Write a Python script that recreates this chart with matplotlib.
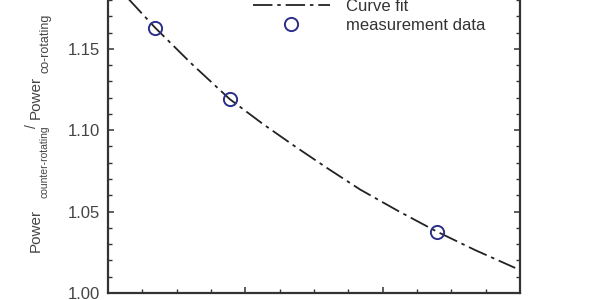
import matplotlib
matplotlib.use("Agg")
import matplotlib.pyplot as plt
from matplotlib.ticker import MultipleLocator, NullFormatter

# measured points
meas_x = [1.37, 3.55, 9.58]
meas_y = [1.163, 1.119, 1.0377]

# curve fit
fit_x = [0.58, 1.37, 2.45, 3.55, 4.50, 5.45, 6.40, 7.34, 8.45, 9.58, 10.70, 11.86]
fit_y = [1.181, 1.163, 1.1405, 1.119, 1.1040, 1.090, 1.0765, 1.0636, 1.0504, 1.0377, 1.0263, 1.0154]

plt.rcParams['font.family'] = ['Liberation Sans', 'DejaVu Sans']
plt.rcParams['lines.scale_dashes'] = False

fig = plt.figure(figsize=(6, 3), dpi=100)
ax = fig.add_axes([0.18, 0.0233, 0.6867, 1.08])

txt = '#444444'
fit_line, = ax.plot(fit_x, fit_y, color='#222222', lw=1.3, dashes=[14, 3.5, 2.5, 3.5])
meas_pts, = ax.plot(meas_x, meas_y, 'o', ms=9.5, mfc='none', mec='#2b2f8a', mew=1.4)

ax.set_xlim(0, 12)
ax.set_ylim(1.00, 1.199)
ax.yaxis.set_major_locator(MultipleLocator(0.05))
ax.yaxis.set_minor_locator(MultipleLocator(0.01))
ax.xaxis.set_major_locator(MultipleLocator(4))
ax.xaxis.set_minor_locator(MultipleLocator(1))
ax.xaxis.set_major_formatter(NullFormatter())
ax.yaxis.set_major_formatter(plt.FuncFormatter(lambda v, p: '%.2f' % v))

ax.tick_params(which='both', direction='in', top=True, right=True, colors='#333333',
               labelcolor=txt, labelsize=12)
ax.tick_params(which='major', length=4, width=1.1, pad=6)
ax.tick_params(which='minor', length=3, width=1.0)
for s in ax.spines.values():
    s.set_color('#333333')
    s.set_linewidth(1.6)

# y label built from pieces so the subscripts can be smaller
# (text, x px of baseline, y px where it starts, size)
label_parts = [
    ('Power', 40, 252, 11),
    ('counter-rotating', 47, 198, 7.5),
    ('/', 36, 128, 10),
    ('Power', 40, 119, 11),
    ('co-rotating', 48, 73, 9),
]
for s, px, py, fs in label_parts:
    fig.text(px / 100, (300 - py) / 100, s, transform=fig.dpi_scale_trans,
             rotation=90, rotation_mode='anchor', ha='left', va='baseline',
             fontsize=fs, color=txt)

leg = fig.legend([fit_line, meas_pts], ['Curve fit', 'measurement data'],
                 loc='upper left', bbox_to_anchor=(0.4217, 1.003), frameon=False,
                 fontsize=12, handlelength=4.6, handletextpad=1.0,
                 labelspacing=0.25, borderpad=0, borderaxespad=0)
for t in leg.get_texts():
    t.set_color('#333333')

fig.savefig('out.png', dpi=100)
